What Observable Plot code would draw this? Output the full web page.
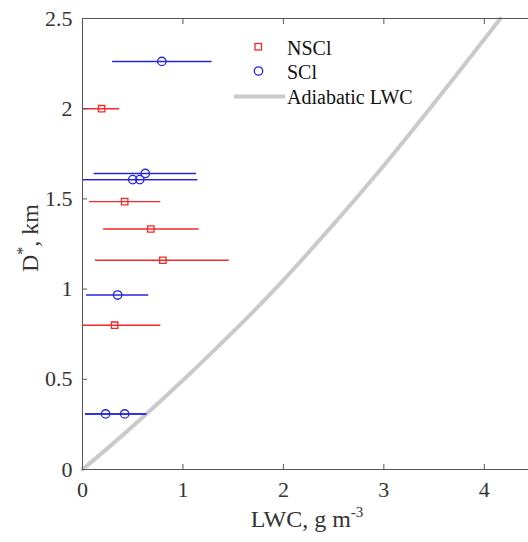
<!DOCTYPE html>
<html>
<head>
<meta charset="utf-8">
<script src="https://cdn.jsdelivr.net/npm/d3@7"></script>
<script src="https://cdn.jsdelivr.net/npm/@observablehq/plot@0.6"></script>
<style>
  html, body { margin: 0; padding: 0; background: #fff; }
  #chart svg { display: block; }
  #chart svg text { font-family: 'Liberation Serif', 'Times New Roman', serif; }
</style>
</head>
<body>
<div id="chart"></div>
<script>
// NSCl (non-seeded clouds): mean LWC, error range, height D*
const nsclLWC = [0.19, 0.42, 0.68, 0.80, 0.32];
const nsclLo  = [0.00, 0.07, 0.21, 0.13, 0.00];
const nsclHi  = [0.37, 0.78, 1.16, 1.46, 0.78];
const nsclD   = [2.00, 1.485, 1.333, 1.16, 0.80];

// SCl (seeded clouds)
const sclLWC = [0.79, 0.625, 0.50, 0.57, 0.35, 0.23, 0.42];
const sclLo  = [0.30, 0.115, 0.00, 0.00, 0.04, 0.03, 0.03];
const sclHi  = [1.29, 1.134, 1.147, 1.147, 0.66, 0.64, 0.64];
const sclD   = [2.262, 1.641, 1.607, 1.607, 0.967, 0.308, 0.308];

// Adiabatic LWC profile
const adiLWC = [0, 0.30, 0.60, 1.00, 1.30, 1.70, 2.00, 2.50, 3.00, 3.50, 4.16];
const adiD   = [0, 0.142, 0.29, 0.495, 0.655, 0.875, 1.05, 1.36, 1.685, 2.03, 2.50];

const xTicks = [0, 1, 2, 3, 4];
const yTicks = [0, 0.5, 1, 1.5, 2, 2.5];

const legendItems = ["NSCl", "SCl", "Adiabatic LWC"];

const RED = "#f22a2a", BLUE = "#2424dc", GRAY = "#cacaca", AXIS = "#555";
const FONT = "'Liberation Serif', 'Times New Roman', serif";

const nscl = nsclLWC.map((v, i) => ({x: v, lo: nsclLo[i], hi: nsclHi[i], d: nsclD[i]}));
const scl = sclLWC.map((v, i) => ({x: v, lo: sclLo[i], hi: sclHi[i], d: sclD[i]}));
const adi = adiLWC.map((v, i) => ({x: v, d: adiD[i]}));

const W = 528, H = 542;
const chart = Plot.plot({
  width: W,
  height: H,
  marginLeft: 82,
  marginRight: 0,
  marginTop: 18,
  marginBottom: 73,
  style: `font-family: ${FONT}; font-size: 22px; color: #333; background: #fff;`,
  x: {domain: [0, 4.44], label: null},
  y: {domain: [0, 2.5], label: null},
  marks: [
    Plot.line(adi, {x: "x", y: "d", stroke: GRAY, strokeWidth: 4, curve: "catmull-rom"}),
    Plot.ruleY(nscl, {y: "d", x1: "lo", x2: "hi", stroke: RED, strokeWidth: 1.4}),
    Plot.ruleY(scl, {y: "d", x1: "lo", x2: "hi", stroke: BLUE, strokeWidth: 1.4}),
    Plot.dot(nscl, {x: "x", y: "d", symbol: "square", r: 3.6, stroke: RED, strokeWidth: 1.3, fill: "none"}),
    Plot.dot(scl, {x: "x", y: "d", symbol: "circle", r: 4.2, stroke: BLUE, strokeWidth: 1.3, fill: "none"}),
    Plot.ruleX([0], {stroke: AXIS, strokeWidth: 1}),
    Plot.ruleY([0, 2.5], {stroke: AXIS, strokeWidth: 1}),
    Plot.axisX({anchor: "bottom", ticks: xTicks, tickSize: -5, tickPadding: 17, stroke: AXIS, fill: "#333", fontFamily: FONT, fontSize: 22, tickFormat: d => String(d), label: null}),
    Plot.axisX({anchor: "top", ticks: xTicks.slice(1), tickSize: -5, stroke: AXIS, tickFormat: () => "", label: null}),
    Plot.axisY({anchor: "left", ticks: yTicks, tickSize: -5, tickPadding: 15, stroke: AXIS, fill: "#333", fontFamily: FONT, fontSize: 22, tickFormat: d => String(d), label: null})
  ]
});
document.getElementById("chart").appendChild(chart);

// Legend and axis titles (real SVG text)
const svg = d3.select(chart);
const lg = svg.append("g").attr("font-family", FONT).attr("font-size", 20).attr("fill", "#111").attr("text-anchor", "start");
const rows = [54.5, 79, 104];
lg.append("rect").attr("x", 255).attr("y", rows[0] - 11).attr("width", 6.5).attr("height", 6.5)
  .attr("fill", "none").attr("stroke", RED).attr("stroke-width", 1.3);
lg.append("circle").attr("cx", 258.5).attr("cy", rows[1] - 8).attr("r", 4.2)
  .attr("fill", "none").attr("stroke", BLUE).attr("stroke-width", 1.3);
lg.append("rect").attr("x", 234).attr("width", 51).attr("y", rows[2] - 9.5).attr("height", 4)
  .attr("fill", GRAY).attr("stroke", "none");
legendItems.forEach((t, i) => lg.append("text").attr("x", 287).attr("y", rows[i]).attr("text-anchor", "start").text(t));

// x-axis title: LWC, g m^-3
const xt = svg.append("text").attr("font-family", FONT).attr("font-size", 24).attr("fill", "#333")
  .attr("x", 307).attr("y", 527).attr("text-anchor", "middle");
xt.append("tspan").text("LWC, g m");
xt.append("tspan").attr("font-size", 15).attr("dy", -10).text("-3");

// y-axis title: D*, km
const yt = svg.append("text").attr("font-family", FONT).attr("font-size", 24).attr("fill", "#333")
  .attr("text-anchor", "middle").attr("transform", "translate(38,238) rotate(-90)");
yt.append("tspan").text("D");
yt.append("tspan").attr("font-size", 16).attr("dy", -10).text("*");
yt.append("tspan").attr("dy", 10).text(", km");
</script>
</body>
</html>
